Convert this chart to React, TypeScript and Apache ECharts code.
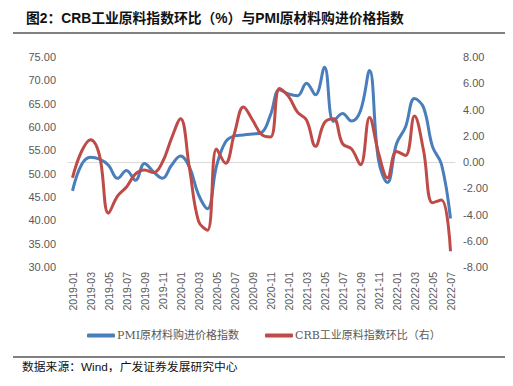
import React, { useEffect, useRef } from "react";
import * as echarts from "echarts";

const months: string[] = [
  "2019-01","2019-02","2019-03","2019-04","2019-05","2019-06","2019-07","2019-08","2019-09","2019-10","2019-11","2019-12",
  "2020-01","2020-02","2020-03","2020-04","2020-05","2020-06","2020-07","2020-08","2020-09","2020-10","2020-11","2020-12",
  "2021-01","2021-02","2021-03","2021-04","2021-05","2021-06","2021-07","2021-08","2021-09","2021-10","2021-11","2021-12",
  "2022-01","2022-02","2022-03","2022-04","2022-05","2022-06","2022-07",
];

const pmiPrice: number[] = [
  46.3, 51.9, 53.5, 53.1, 51.8, 49.0, 50.7, 48.6, 52.2, 50.4, 49.0, 51.8,
  53.8, 51.4, 45.5, 42.5, 51.6, 56.8, 58.1, 58.3, 58.5, 58.8, 62.6, 68.0,
  67.1, 66.7, 69.4, 66.9, 72.8, 61.2, 62.9, 61.3, 63.5, 72.1, 52.9, 48.1,
  56.4, 60.0, 66.1, 64.2, 55.8, 52.0, 40.4,
];

const crbMoM: number[] = [
  -1.2, 0.8, 1.7, 0.5, -3.9, -2.6, -1.9, -0.9, -0.6, -0.8, 0.0, 1.8,
  3.3, -0.5, -4.5, -5.2, 1.0, -0.1, 2.2, 4.2, 3.2, 2.1, 1.9, 5.6,
  5.0, 3.8, 3.2, 1.2, 3.0, 3.3, 1.4, 1.0, -0.2, 3.4, 0.7, -1.2,
  0.8, 0.5, 3.5, 0.9, -3.1, -2.9, -6.8,
];

const seriesNames: string[] = ["PMI原材料购进价格指数", "CRB工业原料指数环比（右）"];
const titleText = "图2：CRB工业原料指数环比（%）与PMI原材料购进价格指数";
const sourceText = "数据来源：Wind，广发证券发展研究中心";

const BLUE = "#4A7EBB";
const RED = "#BE4B48";
const AXIS_TEXT = "#595959";

export default function App() {
  const ref = useRef<HTMLDivElement>(null);

  useEffect(() => {
    if (!ref.current) return;
    const chart = echarts.init(ref.current, null, { renderer: "svg" });
    chart.setOption({
      animation: false,
      backgroundColor: "#ffffff",
      title: {
        text: titleText,
        left: 21,
        top: 7,
        textStyle: {
          fontSize: 13.8,
          fontWeight: "bold",
          color: "#111111",
          fontFamily: "Arial, 'Noto Sans CJK SC', sans-serif",
        },
      },
      graphic: [
        { type: "line", shape: { x1: 13, y1: 33, x2: 505, y2: 33 }, style: { stroke: "#000", lineWidth: 1 } },
        { type: "line", shape: { x1: 13, y1: 357, x2: 505, y2: 357 }, style: { stroke: "#000", lineWidth: 1 } },
        {
          type: "text",
          left: 22,
          top: 361,
          style: {
            text: sourceText,
            fontSize: 11.8,
            fill: "#111111",
            fontFamily: "Arial, 'Noto Sans CJK SC', sans-serif",
          },
        },
      ],
      legend: {
        left: 82,
        top: 325,
        itemWidth: 28,
        itemHeight: 4,
        itemGap: 26,
        icon: "roundRect",
        textStyle: {
          fontSize: 11,
          color: AXIS_TEXT,
          fontFamily: "'DejaVu Serif', 'Noto Sans CJK SC', serif",
          padding: [0, 0, 0, -3],
        },
        data: seriesNames,
      },
      grid: { left: 68, right: 58, top: 57, bottom: 119, containLabel: false },
      xAxis: {
        type: "category",
        data: months,
        boundaryGap: true,
        axisLine: { lineStyle: { color: "#D9D9D9", width: 1 } },
        axisTick: { interval: 1, length: 4, lineStyle: { color: "#D9D9D9" } },
        axisLabel: {
          interval: 1,
          rotate: 90,
          margin: 5,
          fontSize: 10.5,
          color: AXIS_TEXT,
          fontFamily: "Arial, 'Liberation Sans', sans-serif",
        },
      },
      yAxis: [
        {
          type: "value",
          min: 30,
          max: 75,
          interval: 5,
          axisLine: { show: false },
          axisTick: { show: false },
          splitLine: { show: false },
          axisLabel: {
            margin: 12,
            fontSize: 11,
            color: AXIS_TEXT,
            fontFamily: "Arial, 'Liberation Sans', sans-serif",
            formatter: (v: number) => v.toFixed(2),
          },
        },
        {
          type: "value",
          min: -8,
          max: 8,
          interval: 2,
          position: "right",
          axisLine: { show: false },
          axisTick: { show: false },
          splitLine: { show: false },
          axisLabel: {
            margin: 8,
            fontSize: 11,
            color: AXIS_TEXT,
            fontFamily: "Arial, 'Liberation Sans', sans-serif",
            formatter: (v: number) => v.toFixed(2),
          },
        },
      ],
      series: [
        {
          name: seriesNames[0],
          type: "line",
          yAxisIndex: 0,
          data: pmiPrice,
          smooth: 0.4,
          symbol: "none",
          lineStyle: { color: BLUE, width: 3 },
          itemStyle: { color: BLUE },
          z: 2,
        },
        {
          name: seriesNames[1],
          type: "line",
          yAxisIndex: 1,
          data: crbMoM,
          smooth: 0.4,
          symbol: "none",
          lineStyle: { color: RED, width: 3 },
          itemStyle: { color: RED },
          z: 3,
        },
      ],
    });
    return () => chart.dispose();
  }, []);

  return (
    <div
      ref={ref}
      style={{ position: "fixed", left: 0, top: 0, width: 513, height: 386, background: "#fff" }}
    />
  );
}
